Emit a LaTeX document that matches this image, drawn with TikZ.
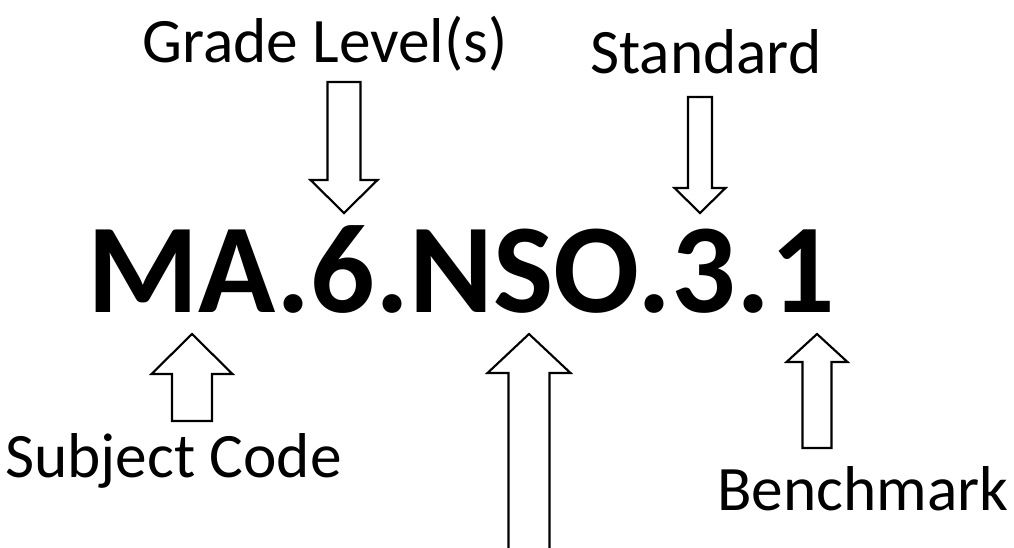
\documentclass[tikz,border=0pt]{standalone}
\usepackage{fontspec}
\setmainfont{Carlito}

\begin{document}
\begin{tikzpicture}[x=0.75pt, y=-0.75pt,
    every node/.style={inner sep=0pt, anchor=base west},
    label/.style={font=\fontsize{47.5}{50}\selectfont},
    codetext/.style={font=\fontsize{95.5}{100}\selectfont\bfseries},
    blockarrow/.style={draw=black, fill=white, line width=1.6pt, line join=miter}]
    \clip (0,0) rectangle (1014,547);
    \fill[white] (0,0) rectangle (1014,547);

    % the code and its parts
    \node[codetext] (code) at (87,312) {MA.6.NSO.3.1};
    \node[label] (grade) at (142,62) {Grade Level(s)};
    \node[label] (standard) at (590,73) {Standard};
    \node[label] (subject) at (5,477) {Subject Code};
    \node[label] (benchmark) at (717,510) {Benchmark};

    % block arrows: x / tip / head base / tail / shaft half / head half
    \foreach \x/\tip/\base/\tail/\sh/\hh in {344/213/180/82/16.5/33.5,
        700/213/188/97/12/25.5, 192/334/374/421/20/40.5,
        529/334/373/560/20.5/41.5, 817/334/362/448/14.5/30.5}
        \draw[blockarrow] (\x,\tip) -- (\x+\hh,\base) -- (\x+\sh,\base)
            -- (\x+\sh,\tail) -- (\x-\sh,\tail) -- (\x-\sh,\base)
            -- (\x-\hh,\base) -- cycle;
\end{tikzpicture}
\end{document}
